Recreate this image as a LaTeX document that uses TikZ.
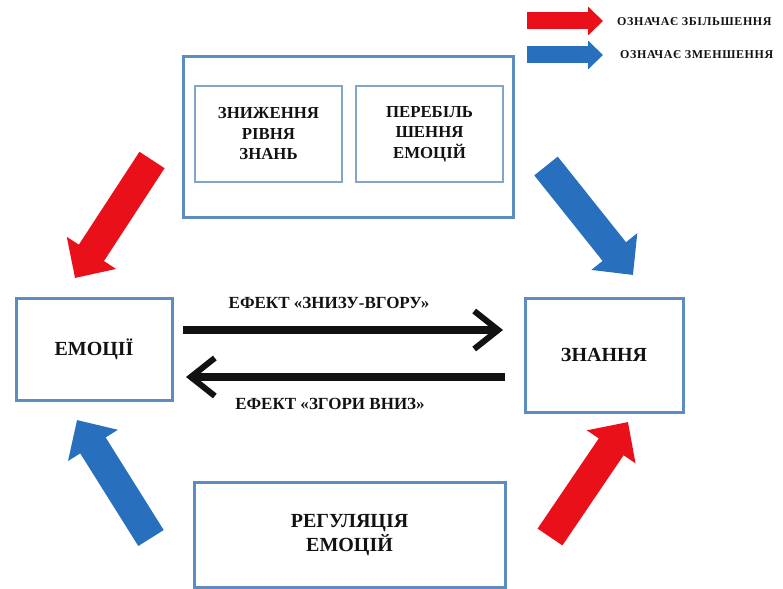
\documentclass[tikz,border=0pt]{standalone}
\usepackage{fontspec}
\setmainfont{Liberation Serif}
\usetikzlibrary{arrows.meta}
\definecolor{frameblue}{RGB}{92,140,192}
\definecolor{innerblue}{RGB}{130,165,200}
\definecolor{upred}{RGB}{234,16,26}
\definecolor{downblue}{RGB}{40,112,190}
\definecolor{ink}{RGB}{18,18,18}
\begin{document}
\begin{tikzpicture}[x=1pt,y=-1pt,
  box/.style={draw=frameblue, line width=3pt, fill=white, align=center,
    inner sep=0pt, text=ink, font=\bfseries\fontsize{20}{24.5}\selectfont},
  innerbox/.style={box, draw=innerblue, line width=2pt,
    font=\bfseries\fontsize{16.8}{20.5}\selectfont},
  effect/.style={line width=7.5pt, draw=ink,
    -{Straight Barb[length=24pt, width=38pt, line width=6pt]}},
  block/.style={line width=30pt,
    -{Triangle[length=30pt, width=57pt]}},
  legendarrow/.style={line width=17pt,
    -{Triangle[length=15pt, width=28pt]}},
  lbl/.style={text=ink, font=\bfseries\fontsize{17}{20}\selectfont, inner sep=0pt},
  legendtext/.style={text=ink, anchor=west, inner sep=0pt,
    font=\bfseries\fontsize{12}{14}\addfontfeature{LetterSpace=5}\selectfont}
]
\useasboundingbox (0,0) rectangle (783,588);

% legend
\coordinate (lr1) at (527,21);
\coordinate (lr2) at (603,21);
\coordinate (lb1) at (527,55);
\coordinate (lb2) at (603,55);
\draw[legendarrow, draw=upred, fill=upred] (lr1) -- (lr2);
\draw[legendarrow, draw=downblue, fill=downblue] (lb1) -- (lb2);
\node[legendtext] (lgup) at (617,22) {ОЗНАЧАЄ ЗБІЛЬШЕННЯ};
\node[legendtext] (lgdown) at (620,55) {ОЗНАЧАЄ ЗМЕНШЕННЯ};

% top group of causes
\node[box, minimum width=330pt, minimum height=160pt] (outer) at (348,137) {};
\node[innerbox, minimum width=147pt, minimum height=95pt] (lowknow) at (268.5,134)
  {ЗНИЖЕННЯ\\РІВНЯ\\ЗНАНЬ};
\node[innerbox, minimum width=147pt, minimum height=95pt] (overemo) at (429.5,134)
  {ПЕРЕБІЛЬ\\ШЕННЯ\\ЕМОЦІЙ};

% main blocks
\node[box, minimum width=156pt, minimum height=102pt] (emo) at (94,349) {ЕМОЦІЇ};
\node[box, minimum width=158pt, minimum height=114pt] (know) at (604,355) {ЗНАННЯ};
\node[box, minimum width=311pt, minimum height=105pt] (reg) at (349.5,535) {РЕГУЛЯЦІЯ\\ЕМОЦІЙ};

% bottom-up and top-down effects
\coordinate (bu1) at (183,330);
\coordinate (bu2) at (503,330);
\coordinate (td1) at (505,377);
\coordinate (td2) at (186,377);
\draw[effect] (bu1) -- (bu2);
\draw[effect] (td1) -- (td2);
\node[lbl] (bulbl) at (329,303) {ЕФЕКТ «ЗНИЗУ-ВГОРУ»};
\node[lbl] (tdlbl) at (330,404) {ЕФЕКТ «ЗГОРИ ВНИЗ»};

% influence arrows
\coordinate (a1) at (152,160);  \coordinate (a1t) at (75,278);
\coordinate (a2) at (546,166);  \coordinate (a2t) at (633,275);
\coordinate (a3) at (151,538);  \coordinate (a3t) at (77,420);
\coordinate (a4) at (550,537);  \coordinate (a4t) at (628,422);
\draw[block, draw=upred, fill=upred] (a1) -- (a1t);
\draw[block, draw=downblue, fill=downblue] (a2) -- (a2t);
\draw[block, draw=downblue, fill=downblue] (a3) -- (a3t);
\draw[block, draw=upred, fill=upred] (a4) -- (a4t);
\end{tikzpicture}
\end{document}
